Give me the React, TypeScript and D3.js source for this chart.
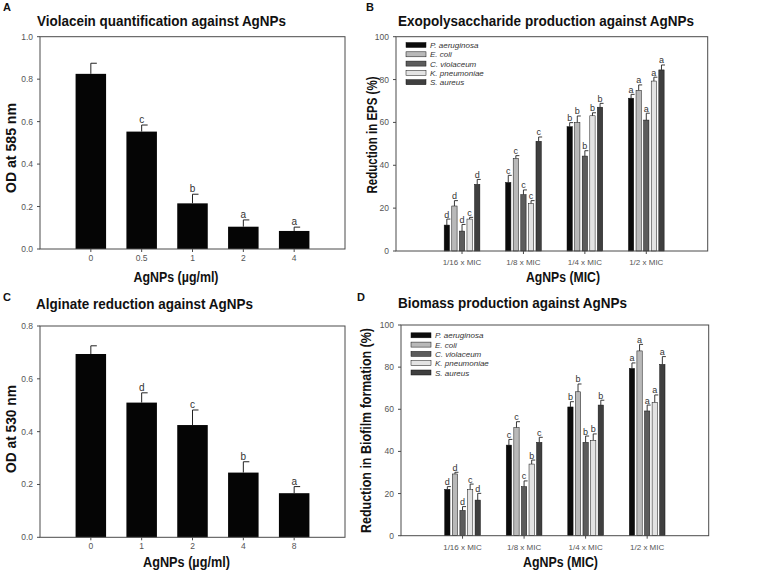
import React from "react";
import * as d3 from "d3";

// ---------- data ----------
const violaceinConc = ["0", "0.5", "1", "2", "4"];
const violaceinOD = [0.825, 0.553, 0.215, 0.105, 0.085];
const violaceinErr = [0.05, 0.031, 0.043, 0.032, 0.018];
const violaceinSig = ["", "c", "b", "a", "a"];

const alginateConc = ["0", "1", "2", "4", "8"];
const alginateOD = [0.694, 0.51, 0.425, 0.245, 0.167];
const alginateErr = [0.031, 0.037, 0.057, 0.041, 0.025];
const alginateSig = ["", "d", "c", "b", "a"];

const micLevels = ["1/16 x MIC", "1/8 x MIC", "1/4 x MIC", "1/2 x MIC"];
const strains = ["P. aeruginosa", "E. coli", "C. violaceum", "K. pneumoniae", "S. aureus"];
const strainColors = ["#0b0b0b", "#b9b9b9", "#5c5c5c", "#e3e3e3", "#3f3f3f"];

// EPS reduction (%) per strain across MIC levels
const epsPa = [12.1, 32, 58, 71.3];
const epsEc = [21, 43.2, 60, 75];
const epsCv = [9.3, 26.3, 44.3, 61.1];
const epsKp = [14.9, 22.2, 63.1, 79.3];
const epsSa = [31.1, 51.2, 67.1, 84.5];
const epsErrPa = [2.8, 3.3, 1.9, 1.8];
const epsErrEc = [2.5, 1.3, 3.0, 2.5];
const epsErrCv = [3.1, 2.2, 2.5, 3.2];
const epsErrKp = [0.8, 1.3, 1.4, 1.8];
const epsErrSa = [2.3, 2.0, 1.8, 2.3];
const epsSigPa = ["d", "c", "b", "a"];
const epsSigEc = ["d", "c", "b", "a"];
const epsSigCv = ["d", "c", "b", "a"];
const epsSigKp = ["c", "c", "b", "a"];
const epsSigSa = ["d", "c", "b", "a"];

// Biofilm biomass reduction (%)
const bioPa = [22, 43, 61.1, 79.4];
const bioEc = [29.3, 51.3, 68.3, 87.7];
const bioCv = [12, 23.3, 44.3, 59.2];
const bioKp = [22, 34, 45.3, 63.3];
const bioSa = [16.9, 44.3, 62, 81.3];
const bioErrPa = [1.3, 2.7, 2.5, 2.6];
const bioErrEc = [0.8, 2.8, 3.7, 3.1];
const bioErrCv = [1.8, 2.7, 3.0, 2.8];
const bioErrKp = [2.5, 1.9, 3.0, 3.5];
const bioErrSa = [3.2, 2.4, 2.3, 3.7];
const bioSigPa = ["d", "c", "b", "a"];
const bioSigEc = ["d", "c", "b", "a"];
const bioSigCv = ["d", "c", "b", "a"];
const bioSigKp = ["c", "b", "b", "a"];
const bioSigSa = ["d", "c", "b", "a"];

const odTicksA = [0, 0.2, 0.4, 0.6, 0.8, 1.0];
const odTicksC = [0, 0.2, 0.4, 0.6, 0.8];
const pctTicks = [0, 20, 40, 60, 80, 100];

const FONT_BOLD = "'Liberation Sans Narrow', 'Arial Narrow', 'Liberation Sans', Arial, sans-serif";
const FONT = "'Liberation Sans', Arial, sans-serif";
const AXIS = "#4a4a4a";
const TICKTXT = "#555";

type Frame = { l: number; r: number; t: number; b: number };

function Frame({ f }: { f: Frame }) {
  return (
    <rect x={f.l} y={f.t} width={f.r - f.l} height={f.b - f.t} fill="none" stroke={AXIS} strokeWidth={1} />
  );
}

function YAxis({ f, y, ticks, fmt }: any) {
  return (
    <g>
      {ticks.map((t: number) => (
        <g key={t}>
          <line x1={f.l - 3} x2={f.l} y1={y(t)} y2={y(t)} stroke={AXIS} />
          <text x={f.l - 7} y={y(t) + 3} textAnchor="end" fontSize={8.5} fill={TICKTXT} fontFamily={FONT}>
            {fmt(t)}
          </text>
        </g>
      ))}
    </g>
  );
}

function SimpleBars({ f, yMax, ticks, cats, vals, errs, sigs }: any) {
  const x = d3.scaleLinear().domain([0, cats.length + 1]).range([f.l, f.r]);
  const y = d3.scaleLinear().domain([0, yMax]).range([f.b, f.t]);
  const bw = 30.5;
  const fmt = d3.format(".1f");
  return (
    <g>
      {cats.map((c: string, i: number) => {
        const cx = x(i + 1);
        const top = y(vals[i]);
        const et = y(vals[i] + errs[i]);
        return (
          <g key={c}>
            <rect x={cx - bw / 2} y={top} width={bw} height={f.b - top} fill="#050505" />
            <line x1={cx} x2={cx} y1={top} y2={et} stroke="#222" strokeWidth={1} />
            <line x1={cx} x2={cx + 6} y1={et} y2={et} stroke="#222" strokeWidth={1} />
            {sigs[i] ? (
              <text x={cx} y={et - 2} textAnchor="middle" fontSize={10} fill="#333" fontFamily={FONT}>
                {sigs[i]}
              </text>
            ) : null}
            <line x1={cx} x2={cx} y1={f.b} y2={f.b + 3} stroke={AXIS} />
            <text x={cx} y={f.b + 12} textAnchor="middle" fontSize={8.5} fill={TICKTXT} fontFamily={FONT}>
              {c}
            </text>
          </g>
        );
      })}
      <Frame f={f} />
      <YAxis f={f} y={y} ticks={ticks} fmt={fmt} />
    </g>
  );
}

function GroupedBars({ f, x0, series, errsAll, sigsAll, legendX, legendY }: any) {
  const x = d3.scaleLinear().domain([x0, micLevels.length + 1]).range([f.l, f.r]);
  const y = d3.scaleLinear().domain([0, 100]).range([f.b, f.t]);
  const inner = d3.scaleBand().domain(strains).range([-17.85, 17.85]).paddingInner(0.3);
  const bw = inner.bandwidth();
  return (
    <g>
      {micLevels.map((m, gi) => {
        const gx = x(gi + 1);
        return (
          <g key={m}>
            {strains.map((s, si) => {
              const v = series[si][gi];
              const e = errsAll[si][gi];
              const bx = gx + (inner(s) as number);
              const cx = bx + bw / 2;
              const top = y(v);
              const et = y(v + e);
              return (
                <g key={s}>
                  <rect x={bx} y={top} width={bw} height={f.b - top} fill={strainColors[si]} stroke="#111" strokeWidth={0.5} />
                  <line x1={cx} x2={cx} y1={top} y2={et} stroke="#222" strokeWidth={0.9} />
                  <line x1={cx} x2={cx + 3.5} y1={et} y2={et} stroke="#222" strokeWidth={0.9} />
                  <text x={cx} y={et - 1.5} textAnchor="middle" fontSize={9} fill="#333" fontFamily={FONT}>
                    {sigsAll[si][gi]}
                  </text>
                </g>
              );
            })}
            <line x1={gx} x2={gx} y1={f.b} y2={f.b + 3} stroke={AXIS} />
            <text x={gx} y={f.b + 14} textAnchor="middle" fontSize={8} fill={TICKTXT} fontFamily={FONT}>
              {m}
            </text>
          </g>
        );
      })}
      <Frame f={f} />
      <YAxis f={f} y={y} ticks={pctTicks} fmt={(t: number) => String(t)} />
      {strains.map((s, si) => (
        <g key={s}>
          <rect x={legendX} y={legendY + si * 9.3 - 2.5} width={20} height={5} fill={strainColors[si]} stroke="#111" strokeWidth={0.5} />
          <text x={legendX + 24} y={legendY + si * 9.3 + 3} fontSize={8} fontStyle="italic" fill="#333" fontFamily={FONT}>
            {s}
          </text>
        </g>
      ))}
    </g>
  );
}

function Title({ x, y, w, children, size = 15 }: any) {
  return (
    <text x={x} y={y} fontSize={size} fontWeight="bold" fontFamily={FONT_BOLD} textLength={w} lengthAdjust="spacingAndGlyphs" fill="#111">
      {children}
    </text>
  );
}

function YLabel({ x, cy, w, children }: any) {
  return (
    <text
      transform={`translate(${x},${cy}) rotate(-90)`}
      textAnchor="middle"
      fontSize={14}
      fontWeight="bold"
      fontFamily={FONT_BOLD}
      textLength={w}
      lengthAdjust="spacingAndGlyphs"
      fill="#111"
    >
      {children}
    </text>
  );
}

function XLabel({ cx, y, w, children }: any) {
  return (
    <text x={cx} y={y} textAnchor="middle" fontSize={15} fontWeight="bold" fontFamily={FONT_BOLD} textLength={w} lengthAdjust="spacingAndGlyphs" fill="#111">
      {children}
    </text>
  );
}

function PanelLetter({ x, y, children }: any) {
  return (
    <text x={x} y={y} fontSize={11} fontWeight="bold" fontFamily={FONT} fill="#111">
      {children}
    </text>
  );
}

export default function App() {
  const fA = { l: 40, r: 345, t: 36.7, b: 249 };
  const fC = { l: 40, r: 345, t: 326, b: 537.3 };
  const fB = { l: 396, r: 707.7, t: 36.7, b: 251 };
  const fD = { l: 401, r: 708.7, t: 325, b: 535.7 };
  return (
    <svg width={776} height={576} style={{ position: "absolute", left: 0, top: 0, background: "#fff" }}>
      <rect x={0} y={0} width={776} height={576} fill="#fff" />
      {/* Panel A */}
      <PanelLetter x={3} y={11}>A</PanelLetter>
      <Title x={37} y={26} w={249}>Violacein quantification against AgNPs</Title>
      <SimpleBars f={fA} yMax={1.0} ticks={odTicksA} cats={violaceinConc} vals={violaceinOD} errs={violaceinErr} sigs={violaceinSig} />
      <YLabel x={15.5} cy={148} w={90}>OD at 585 nm</YLabel>
      <XLabel cx={176} y={282} w={85}>AgNPs (µg/ml)</XLabel>

      {/* Panel B */}
      <PanelLetter x={366} y={11}>B</PanelLetter>
      <Title x={398} y={26} w={296}>Exopolysaccharide production against AgNPs</Title>
      <GroupedBars
        f={fB}
        x0={-0.075}
        series={[epsPa, epsEc, epsCv, epsKp, epsSa]}
        errsAll={[epsErrPa, epsErrEc, epsErrCv, epsErrKp, epsErrSa]}
        sigsAll={[epsSigPa, epsSigEc, epsSigCv, epsSigKp, epsSigSa]}
        legendX={406}
        legendY={45}
      />
      <YLabel x={377} cy={135} w={117}>Reduction in EPS (%)</YLabel>
      <XLabel cx={563} y={282} w={74}>AgNPs (MIC)</XLabel>

      {/* Panel C */}
      <PanelLetter x={3} y={301}>C</PanelLetter>
      <Title x={36} y={309} w={217}>Alginate reduction against AgNPs</Title>
      <SimpleBars f={fC} yMax={0.8} ticks={odTicksC} cats={alginateConc} vals={alginateOD} errs={alginateErr} sigs={alginateSig} />
      <YLabel x={15.5} cy={429} w={88}>OD at 530 nm</YLabel>
      <XLabel cx={186.5} y={567} w={87}>AgNPs (µg/ml)</XLabel>

      {/* Panel D */}
      <PanelLetter x={357} y={301}>D</PanelLetter>
      <Title x={398} y={308} w={229}>Biomass production against AgNPs</Title>
      <GroupedBars
        f={fD}
        x0={0}
        series={[bioPa, bioEc, bioCv, bioKp, bioSa]}
        errsAll={[bioErrPa, bioErrEc, bioErrCv, bioErrKp, bioErrSa]}
        sigsAll={[bioSigPa, bioSigEc, bioSigCv, bioSigKp, bioSigSa]}
        legendX={411}
        legendY={335.3}
      />
      <YLabel x={371} cy={430.5} w={205}>Reduction in Biofilm formation (%)</YLabel>
      <XLabel cx={560.5} y={567} w={75}>AgNPs (MIC)</XLabel>
    </svg>
  );
}
